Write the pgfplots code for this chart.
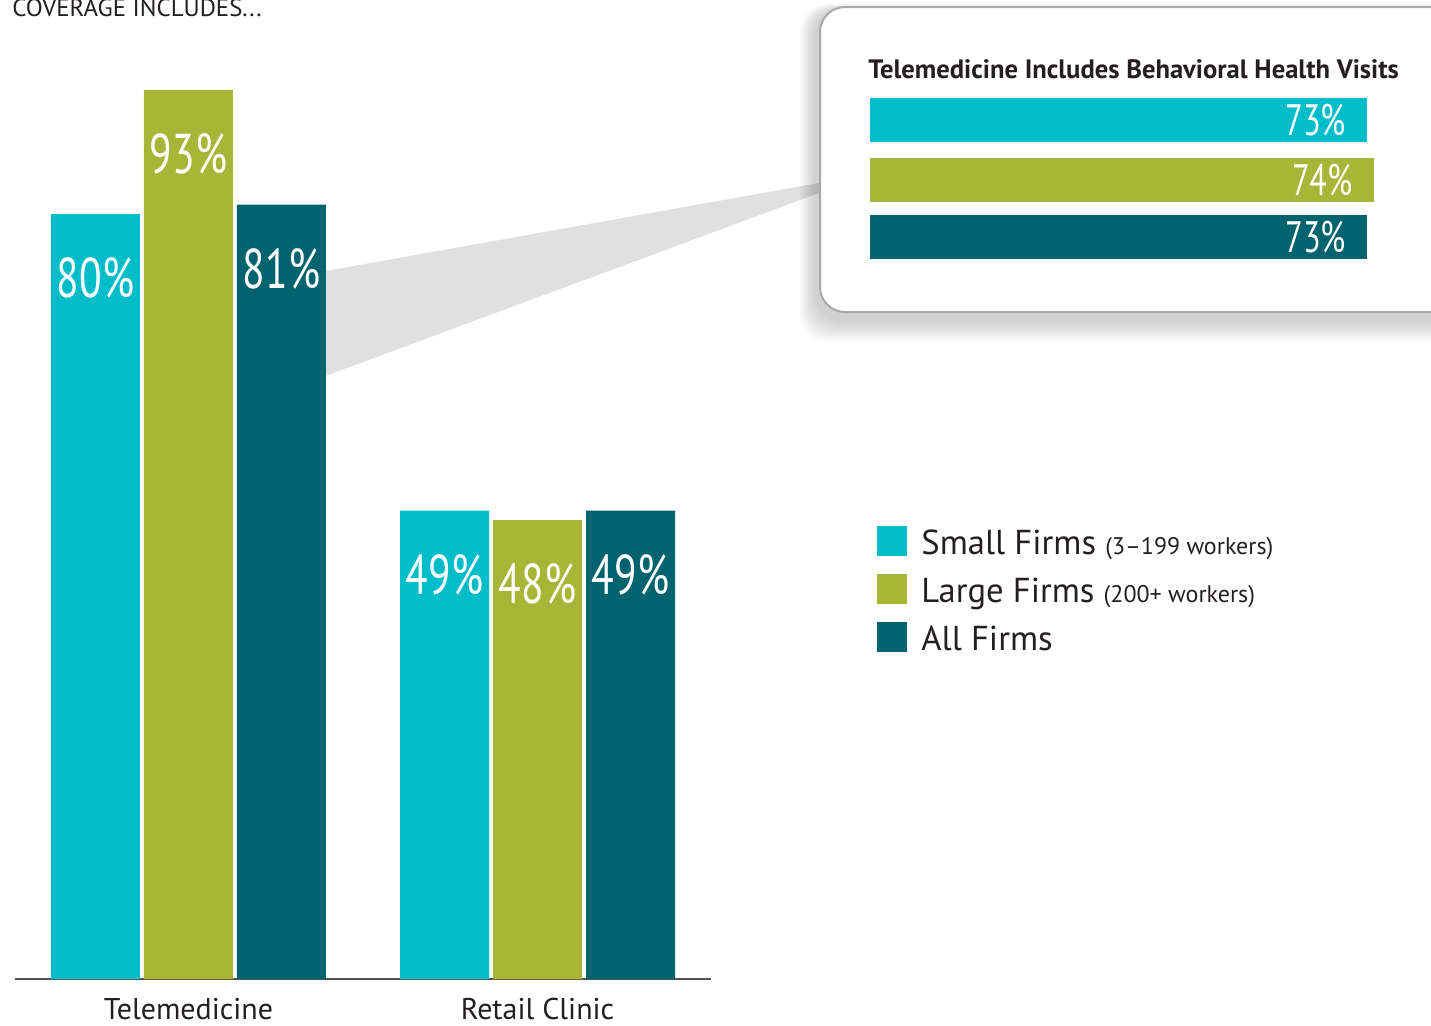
\documentclass[border=0pt]{standalone}
\usepackage{fontspec}
\setmainfont{PT Sans}
\usepackage{pgfplots}
\pgfplotsset{compat=1.18}
\definecolor{cSmall}{HTML}{00BDC9}
\definecolor{cLarge}{HTML}{A8B637}
\definecolor{cAll}{HTML}{00636E}
\definecolor{txt}{HTML}{231F20}
\definecolor{axisgray}{HTML}{555555}
\definecolor{boxgray}{HTML}{A8A8A8}
\definecolor{wedge}{HTML}{E0E0E0}
\newcommand\bignum[1]{\scalebox{0.74}[1]{#1}}
\begin{document}
\begin{tikzpicture}
\useasboundingbox (0,0) rectangle (715.5pt,-512.5pt);
% wedge connecting the 81% bar with the inset
\begin{scope}[x=0.5pt,y=-0.5pt]
\fill[wedge] (320,272) -- (830,181) -- (830,189) -- (320,378) -- cycle;
\end{scope}
% main chart
\begin{axis}[
  at={(7.5pt,-489.5pt)}, anchor=south west,
  width=348pt, height=478pt, scale only axis,
  xmin=-0.497, xmax=1.497, ymin=0, ymax=100,
  ybar, bar width=44.5pt,
  axis x line*=bottom, hide y axis,
  x axis line style={draw=axisgray, line width=1pt, -},
  xtick={0,1}, xticklabels={Telemedicine, Retail Clinic},
  major tick length=0pt,
  xticklabel style={font=\fontsize{15}{18}\selectfont, text=txt, anchor=base, yshift=-20pt},
  /pgf/number format/assume math mode=true,
  nodes near coords={\bignum{\pgfmathprintnumber{\pgfplotspointmeta}\%}},
  every node near coord/.append style={anchor=center, yshift=-32pt, text=white, font=\fontsize{28}{32}\selectfont},
  clip=false
]
\addplot[fill=cSmall, draw=none, bar shift=-46.5pt] coordinates {(0,80) (1,49)};
\addplot[fill=cLarge, draw=none, bar shift=0pt] coordinates {(0,93) (1,48)};
\addplot[fill=cAll, draw=none, bar shift=46.5pt] coordinates {(0,81) (1,49)};
\end{axis}
% inset box with soft shadow
\begin{scope}[x=0.5pt,y=-0.5pt]
\foreach \i in {1,...,10}{
  \fill[black, opacity=0.018, rounded corners=14pt] ({816-\i*1.6},{10-\i*0.6}) rectangle ({1460+\i},{320+\i*2.2});
}
\draw[fill=white, draw=boxgray, line width=1pt, rounded corners=12.5pt] (820,7) rectangle (1470,312);
\node[anchor=base west, inner sep=0, text=txt, font=\bfseries\fontsize{13.3}{16}\selectfont] at (868,78) {Telemedicine Includes Behavioral Health Visits};
\end{scope}
\begin{axis}[
  at={(435pt,-135pt)}, anchor=south west,
  width=340.5pt, height=90pt, scale only axis,
  xmin=0, xmax=100, ymin=90, ymax=270, y dir=reverse,
  xbar, bar width=22pt, hide axis, clip=false,
  /pgf/number format/assume math mode=true,
  nodes near coords={\bignum{\pgfmathprintnumber{\pgfplotspointmeta}\%}},
  every node near coord/.append style={anchor=east, xshift=-7pt, text=white, font=\fontsize{22}{26}\selectfont}
]
\addplot[fill=cSmall, draw=none, bar shift=0pt] coordinates {(73,120)};
\addplot[fill=cLarge, draw=none, bar shift=0pt] coordinates {(74,180)};
\addplot[fill=cAll, draw=none, bar shift=0pt] coordinates {(73,237)};
\end{axis}
% legend and header
\begin{scope}[x=0.5pt,y=-0.5pt]
\fill[cSmall] (877,526) rectangle (907,556);
\fill[cLarge] (877,574) rectangle (907,604);
\fill[cAll] (877,622) rectangle (907,652);
\node[anchor=base west, inner sep=0, text=txt, font=\fontsize{17.3}{20}\selectfont] at (921,554) {Small Firms {\fontsize{12}{14}\selectfont(3–199 workers)}};
\node[anchor=base west, inner sep=0, text=txt, font=\fontsize{17.3}{20}\selectfont] at (921,602) {Large Firms {\fontsize{12}{14}\selectfont(200+ workers)}};
\node[anchor=base west, inner sep=0, text=txt, font=\fontsize{17.3}{20}\selectfont] at (921,650) {All Firms};
\node[anchor=base west, inner sep=0, text=txt, font=\fontsize{12.4}{14}\selectfont] at (12,16) {COVERAGE INCLUDES...};
\end{scope}
\end{tikzpicture}
\end{document}
